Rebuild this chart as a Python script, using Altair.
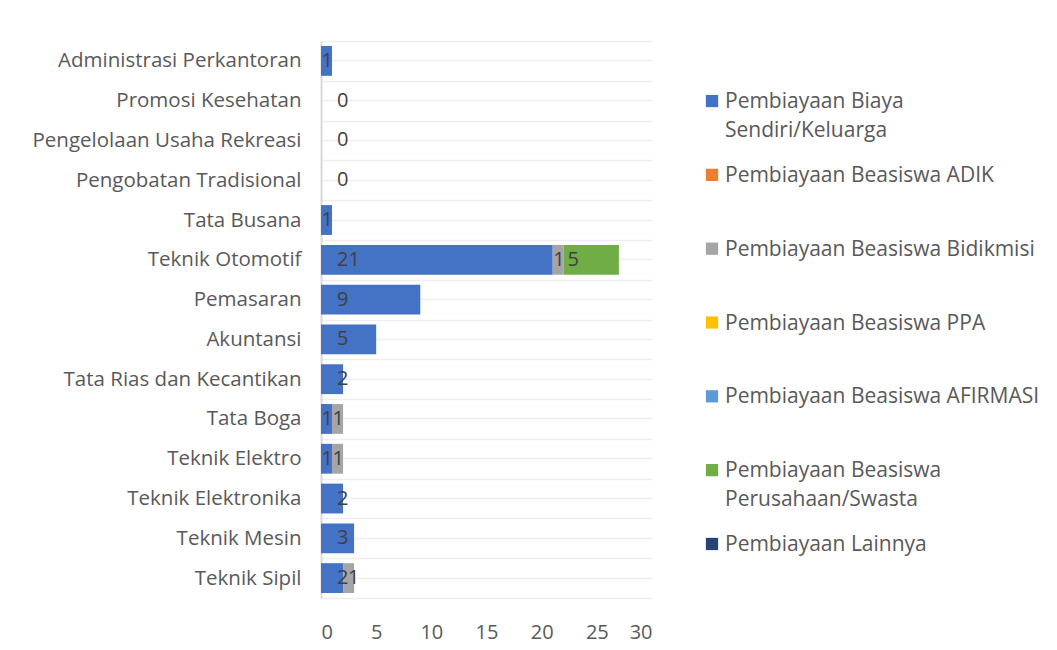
import altair as alt
import pandas as pd

categories = [
    "Administrasi Perkantoran", "Promosi Kesehatan", "Pengelolaan Usaha Rekreasi",
    "Pengobatan Tradisional", "Tata Busana", "Teknik Otomotif", "Pemasaran",
    "Akuntansi", "Tata Rias dan Kecantikan", "Tata Boga", "Teknik Elektro",
    "Teknik Elektronika", "Teknik Mesin", "Teknik Sipil",
]

series = [
    "Pembiayaan Biaya Sendiri/Keluarga",
    "Pembiayaan Beasiswa ADIK",
    "Pembiayaan Beasiswa Bidikmisi",
    "Pembiayaan Beasiswa PPA",
    "Pembiayaan Beasiswa AFIRMASI",
    "Pembiayaan Beasiswa Perusahaan/Swasta",
    "Pembiayaan Lainnya",
]
legend_labels = [
    "Pembiayaan Biaya\nSendiri/Keluarga",
    "Pembiayaan Beasiswa ADIK",
    "Pembiayaan Beasiswa Bidikmisi",
    "Pembiayaan Beasiswa PPA",
    "Pembiayaan Beasiswa AFIRMASI",
    "Pembiayaan Beasiswa\nPerusahaan/Swasta",
    "Pembiayaan Lainnya",
]
colors = ["#4472C4", "#ED7D31", "#A5A5A5", "#FFC000", "#5B9BD5", "#70AD47", "#264478"]

biaya_sendiri = [1, 0, 0, 0, 1, 21, 9, 5, 2, 1, 1, 2, 3, 2]
adik          = [0, 0, 0, 0, 0, 0, 0, 0, 0, 0, 0, 0, 0, 0]
bidikmisi     = [0, 0, 0, 0, 0, 1, 0, 0, 0, 1, 1, 0, 0, 1]
ppa           = [0, 0, 0, 0, 0, 0, 0, 0, 0, 0, 0, 0, 0, 0]
afirmasi      = [0, 0, 0, 0, 0, 0, 0, 0, 0, 0, 0, 0, 0, 0]
swasta        = [0, 0, 0, 0, 0, 5, 0, 0, 0, 0, 0, 0, 0, 0]
lainnya       = [0, 0, 0, 0, 0, 0, 0, 0, 0, 0, 0, 0, 0, 0]

x_ticks = [0, 5, 10, 15, 20, 25, 30]

all_values = [biaya_sendiri, adik, bidikmisi, ppa, afirmasi, swasta, lainnya]
rows = []
for si, (name, vals) in enumerate(zip(series, all_values)):
    for cat, v in zip(categories, vals):
        rows.append({"cat": cat, "series": name, "sidx": si, "value": v})
df = pd.DataFrame(rows)

FONT = "Open Sans"
LABEL_COLOR = "#595959"
GRID = "#eeeeee"

color_enc = alt.Color("series:N", sort=series,
                      scale=alt.Scale(domain=series, range=colors), legend=None)

y_main = alt.Y(
    "cat:N", sort=categories,
    scale=alt.Scale(paddingInner=0, paddingOuter=0),
    axis=alt.Axis(title=None, ticks=False, labelPadding=20, labelFontSize=20.5,
                  labelColor=LABEL_COLOR, labelFont=FONT, labelLimit=400,
                  domainColor="#d9d9d9", domainWidth=2, grid=True,
                  gridColor=GRID, gridWidth=1.5, tickBand="extent",
                  minExtent=308, maxExtent=308),
)

x_enc = alt.X(
    "value:Q", stack="zero", scale=alt.Scale(domain=[0, 30], nice=False),
    axis=alt.Axis(values=x_ticks, title=None, grid=False, ticks=False,
                  domain=False, labelFontSize=20, labelColor=LABEL_COLOR,
                  labelFont=FONT, labelPadding=24),
)

bars = alt.Chart(df).transform_filter("datum.value > 0").mark_bar(
    height=alt.RelativeBandSize(0.75)
).encode(
    x=x_enc,
    y=y_main,
    color=color_enc,
    order=alt.Order("sidx:Q"),
)

labels = alt.Chart(df).transform_stack(
    stack="value", groupby=["cat"], sort=[alt.SortField("sidx")], as_=["x0", "x1"]
).transform_calculate(
    bv="datum.sidx == 0 ? datum.value : 0"
).transform_joinaggregate(
    blue="sum(bv)", groupby=["cat"]
).transform_filter(
    "datum.sidx == 0 || datum.value > 0"
).transform_calculate(
    blue_end="(datum.blue == 1 ? 0.05 : 1.45) + length(toString(datum.blue))",
    pos="datum.sidx == 0 ? (datum.value == 1 ? 0.05 : 1.45) : "
        "max(datum.x0 + (datum.value == 1 ? 0.05 : 0.35), datum.blue_end)",
).mark_text(
    fontSize=20, color="#404040", font=FONT, align="left", baseline="middle"
).encode(
    x=alt.X("pos:Q"),
    y=alt.Y("cat:N", sort=categories,
            axis=alt.Axis(orient="right", labels=False, ticks=False, domain=False,
                          grid=True, gridColor=GRID, gridWidth=1.5, title=None)),
    text=alt.Text("value:Q"),
)

main = alt.layer(bars, labels).resolve_axis(y="independent").properties(
    width=331, height=557
)

leg_df = pd.DataFrame({"series": series, "label": legend_labels})
leg_y = alt.Y("series:N", sort=series,
              scale=alt.Scale(type="point", padding=0.813), axis=None)

leg_sym = alt.Chart(leg_df).mark_square(size=150, opacity=1).encode(
    x=alt.value(30), y=leg_y, color=color_enc
)
leg_txt = alt.Chart(leg_df).mark_text(
    align="left", baseline="top", dy=-10, lineBreak="\n", lineHeight=29,
    fontSize=21, font=FONT, color=LABEL_COLOR
).encode(x=alt.value(43), y=leg_y, text="label:N")

legend = alt.layer(leg_sym, leg_txt).properties(width=320, height=563)

chart = alt.hconcat(main, legend, spacing=30).properties(
    padding={"left": 5, "top": 23, "right": 0, "bottom": 4},
    background="white",
).configure_view(stroke=None)

chart.save("out.html", embed_options={"renderer": "svg", "actions": False})
